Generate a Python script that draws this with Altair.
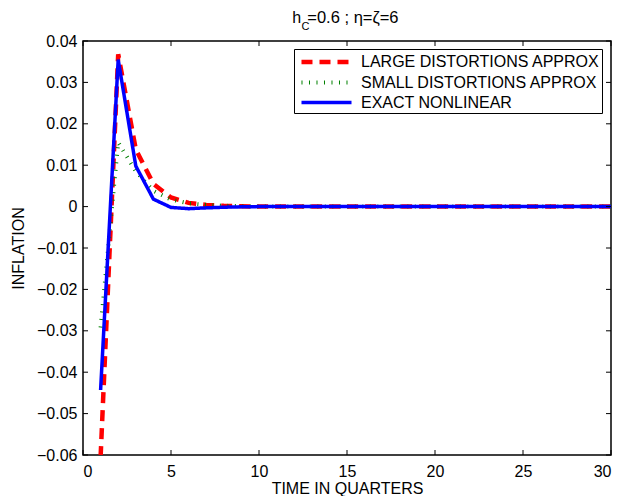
import altair as alt
import pandas as pd

# ---- data ----
quarters = list(range(1, 31))
large = [-0.0605, 0.0368, 0.0138, 0.0055, 0.0022, 0.0009, 0.0004, 0.0002, 0.0001] + [0.0] * 21
small = [-0.0292, 0.0155, 0.0085, 0.0038, 0.0017, 0.0008, 0.0004, 0.0002, 0.0001] + [0.0] * 21
exact = [-0.0443, 0.0355, 0.0098, 0.0018, -0.0002, -0.0005, -0.0003, -0.00015, -0.00005] + [0.0] * 21
series_names = ["LARGE DISTORTIONS APPROX", "SMALL DISTORTIONS APPROX", "\u00a0EXACT NONLINEAR"]
x_ticks = [0, 5, 10, 15, 20, 25, 30]
y_ticks = [-0.06, -0.05, -0.04, -0.03, -0.02, -0.01, 0.0, 0.01, 0.02, 0.03, 0.04]
title_main = "h"
title_sub = "C"
title_rest = "=0.6 ; \u03b7=\u03b6=6"

FONT = "Liberation Sans"
W, H = 528, 414

rows = []
for name, vals in zip(series_names, [large, small, exact]):
    for q, v in zip(quarters, vals):
        rows.append({"quarter": q, "value": v, "series": name})
df = pd.DataFrame(rows)

xs = alt.Scale(domain=[0, 30], nice=False, zero=False)
ys = alt.Scale(domain=[-0.06, 0.04], nice=False, zero=False)

xenc = alt.X("quarter:Q", scale=xs, axis=alt.Axis(
    values=x_ticks, format="d", title="TIME IN QUARTERS", grid=False, domain=False, ticks=False,
    labelFont=FONT, labelFontSize=16, labelColor="black", labelPadding=8,
    titleFont=FONT, titleFontSize=16, titleFontWeight="normal", titleColor="black", titlePadding=1))
yenc = alt.Y("value:Q", scale=ys, axis=alt.Axis(
    values=y_ticks, labelExpr="datum.value == 0 ? '0' : format(datum.value, '.2f')",
    title="INFLATION", grid=False, domain=False, ticks=False,
    labelFont=FONT, labelFontSize=16, labelColor="black", labelPadding=6,
    titleFont=FONT, titleFontSize=16, titleFontWeight="normal", titleColor="black", titlePadding=10))

leg = alt.Legend(title=None, orient="none", legendX=211, legendY=8,
                 symbolType="M-3,0H3", symbolSize=278, strokeColor="black", fillColor="white",
                 padding=2, rowPadding=1, labelFont=FONT, labelFontSize=16, labelColor="black",
                 symbolOffset=19.5, labelOffset=23.5, labelLimit=400)

colors = ["#ff0000", "#008000", "#0000ff"]
dashes = [[11, 7], [1, 6.5], [1, 0]]
widths = [4.5, 3.5, 3]

base = alt.Chart(df).encode(
    x=xenc, y=yenc,
    color=alt.Color("series:N", scale=alt.Scale(domain=series_names, range=colors), legend=leg),
    strokeDash=alt.StrokeDash("series:N", scale=alt.Scale(domain=series_names, range=dashes), legend=leg),
    strokeWidth=alt.StrokeWidth("series:N", scale=alt.Scale(domain=series_names, range=widths), legend=leg),
)
lines = [base.transform_filter(alt.datum.series == n).mark_line(clip=True) for n in series_names]

xt = pd.DataFrame({"quarter": x_ticks})
yt = pd.DataFrame({"value": y_ticks})
xtb = alt.Chart(xt).mark_rule(color="black", strokeWidth=1).encode(x=xenc, y=alt.value(H), y2=alt.value(H - 5))
xtt = alt.Chart(xt).mark_rule(color="black", strokeWidth=1).encode(x=xenc, y=alt.value(0), y2=alt.value(5))
ytl = alt.Chart(yt).mark_rule(color="black", strokeWidth=1).encode(y=yenc, x=alt.value(0), x2=alt.value(5))
ytr = alt.Chart(yt).mark_rule(color="black", strokeWidth=1).encode(y=yenc, x=alt.value(W), x2=alt.value(W - 5))

t1 = alt.Chart(pd.DataFrame({"t": [title_main]})).mark_text(
    font=FONT, fontSize=16, align="left", baseline="alphabetic", color="black"
).encode(text="t:N", x=alt.value(209.3), y=alt.value(-18.3))
t2 = alt.Chart(pd.DataFrame({"t": [title_sub]})).mark_text(
    font=FONT, fontSize=11, align="left", baseline="alphabetic", color="black"
).encode(text="t:N", x=alt.value(218.5), y=alt.value(-10.7))
t3 = alt.Chart(pd.DataFrame({"t": [title_rest]})).mark_text(
    font=FONT, fontSize=16.5, align="left", baseline="alphabetic", color="black"
).encode(text="t:N", x=alt.value(224.3), y=alt.value(-18.3))

chart = alt.layer(*lines, xtb, xtt, ytl, ytr, t1, t2, t3).properties(
    width=W, height=H,
    autosize=alt.AutoSizeParams(type="none"),
    padding={"left": 75, "top": 33, "right": 3, "bottom": 41},
    background="white",
).configure_view(stroke="black", strokeWidth=1.5)

chart.save("out.html", embed_options={"renderer": "svg", "actions": False})
